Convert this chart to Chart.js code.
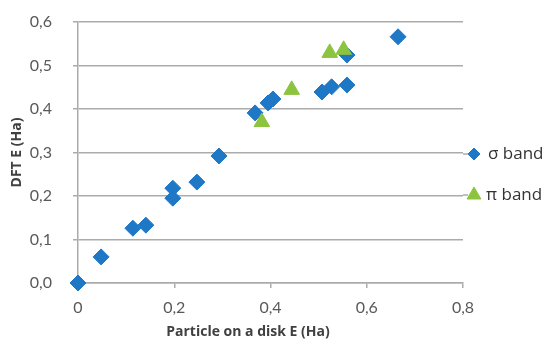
<!DOCTYPE html>
<html>
<head>
<meta charset="utf-8">
<script src="https://cdn.jsdelivr.net/npm/chart.js@4"></script>
<style>
  html, body { margin: 0; padding: 0; background: #fff; }
  #wrap { width: 550px; height: 342px; }
</style>
</head>
<body>
<div id="wrap"><canvas id="c" width="550" height="342"></canvas></div>
<script>
// Data
const sigmaLabel = 'σ band';
const sigmaX = [0, 0.048, 0.114, 0.141, 0.197, 0.197, 0.247, 0.293, 0.368, 0.395, 0.405, 0.507, 0.527, 0.559, 0.559, 0.665];
const sigmaY = [0, 0.060, 0.126, 0.133, 0.218, 0.195, 0.232, 0.292, 0.391, 0.414, 0.423, 0.439, 0.451, 0.455, 0.524, 0.566];
const piLabel = 'π band';
const piX = [0.382, 0.444, 0.523, 0.552];
const piY = [0.370, 0.444, 0.529, 0.536];
const xTicks = [0, 0.2, 0.4, 0.6, 0.8];
const yTicks = [0, 0.1, 0.2, 0.3, 0.4, 0.5, 0.6];
const xTitle = 'Particle on a disk E (Ha)';
const yTitle = 'DFT E (Ha)';

const BLUE = '#1f78c6';
const GREEN = '#8cc43f';
const GRID = '#ababab';
const TICKCOL = '#595959';
const TITLECOL = '#404040';

const toPts = (xs, ys) => xs.map((x, i) => ({x: x, y: ys[i]}));
const fmt = (v, d) => (Math.abs(v) < 1e-9 ? (d === 0 ? '0' : '0,0') : v.toFixed(d).replace('.', ','));

const customPlugin = {
  id: 'custom',
  afterDraw(chart) {
    const ctx = chart.ctx;
    const area = chart.chartArea;
    ctx.save();
    // x axis title
    ctx.font = 'bold 14px "Open Sans"';
    ctx.fillStyle = TITLECOL;
    ctx.textAlign = 'center';
    ctx.textBaseline = 'middle';
    ctx.fillText(xTitle, 248, 332);
    // legend
    const items = [
      {label: sigmaLabel, style: 'rectRot', color: BLUE, r: 6, y: 154, tx: 488},
      {label: piLabel, style: 'triangle', color: GREEN, r: 8, y: 195, tx: 486}
    ];
    items.forEach(it => {
      ctx.strokeStyle = GRID;
      ctx.lineWidth = 1.5;
      ctx.beginPath();
      ctx.moveTo(area.right, it.y);
      ctx.lineTo(468, it.y);
      ctx.stroke();
      ctx.fillStyle = it.color;
      ctx.strokeStyle = it.color;
      ctx.lineWidth = 1;
      Chart.helpers.drawPoint(ctx, {pointStyle: it.style, radius: it.r, rotation: 0, borderWidth: 1}, 474, it.y);
      ctx.font = '17px "Open Sans"';
      ctx.fillStyle = '#333333';
      ctx.textAlign = 'left';
      ctx.textBaseline = 'middle';
      ctx.fillText(it.label, it.tx, it.y);
    });
    ctx.restore();
  }
};

new Chart(document.getElementById('c'), {
  type: 'scatter',
  data: {
    datasets: [
      {
        label: sigmaLabel,
        data: toPts(sigmaX, sigmaY),
        pointStyle: 'rectRot',
        pointRadius: 8,
        pointHoverRadius: 8,
        backgroundColor: BLUE,
        borderColor: BLUE,
        borderWidth: 1,
        clip: false,
        order: 1
      },
      {
        label: piLabel,
        data: toPts(piX, piY),
        pointStyle: 'triangle',
        pointRadius: 9,
        pointHoverRadius: 9,
        backgroundColor: GREEN,
        borderColor: GREEN,
        borderWidth: 1,
        clip: false,
        order: 0
      }
    ]
  },
  options: {
    responsive: false,
    animation: false,
    devicePixelRatio: 1,
    layout: { padding: { top: 22, right: 87, left: 0, bottom: 0 } },
    plugins: {
      legend: { display: false },
      tooltip: { enabled: false }
    },
    scales: {
      x: {
        type: 'linear',
        min: 0, max: 0.8,
        afterBuildTicks: s => { s.ticks = xTicks.map(v => ({value: v})); },
        afterFit: s => { s.height = 59; },
        grid: { drawOnChartArea: false, drawTicks: true, tickLength: 5, color: GRID, lineWidth: 1.5 },
        border: { display: true, color: GRID, width: 1.5 },
        ticks: {
          padding: 10,
          color: TICKCOL,
          font: { family: 'Lato', size: 16 },
          callback: v => fmt(v, 0 === v ? 0 : 1),
          maxRotation: 0
        }
      },
      y: {
        type: 'linear',
        min: 0, max: 0.6,
        afterBuildTicks: s => { s.ticks = yTicks.map(v => ({value: v})); },
        afterFit: s => { s.width = 78; s.paddingTop = 0; s.paddingBottom = 0; },
        grid: { drawOnChartArea: true, drawTicks: true, tickLength: 5, color: GRID, lineWidth: 1.5 },
        border: { display: true, color: GRID, width: 1.5 },
        ticks: {
          padding: 21,
          color: TICKCOL,
          font: { family: 'Lato', size: 16 },
          callback: v => fmt(v, 1)
        },
        title: {
          display: true,
          text: yTitle,
          color: TITLECOL,
          font: { family: 'Open Sans', size: 14, weight: 'bold' },
          padding: { top: 9, bottom: 0 }
        }
      }
    }
  },
  plugins: [customPlugin]
});
</script>
</body>
</html>
